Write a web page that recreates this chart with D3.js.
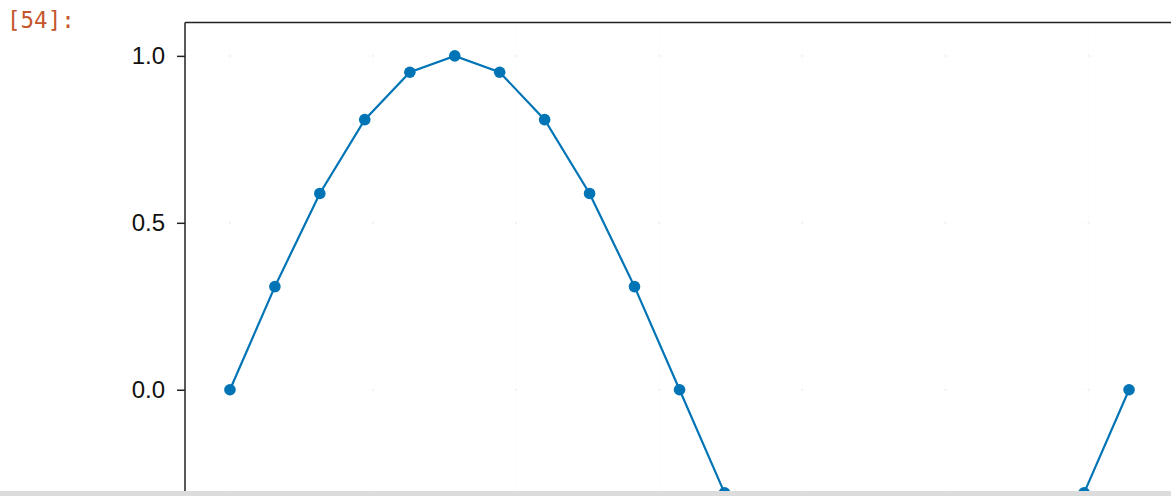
<!DOCTYPE html>
<html>
<head>
<meta charset="utf-8">
<script src="https://cdn.jsdelivr.net/npm/d3@7"></script>
<style>
  html, body { margin: 0; padding: 0; background: #fff; overflow: hidden; }
  svg { display: block; }
</style>
</head>
<body>
<svg id="chart" width="1171" height="496"></svg>
<script>
// Sampled sine wave: one full period, 21 points
const xs = [0, 0.314, 0.628, 0.942, 1.257, 1.571, 1.885, 2.199, 2.513, 2.827,
            3.142, 3.456, 3.770, 4.084, 4.398, 4.712, 5.027, 5.341, 5.655, 5.969, 6.283];
const ys = [0, 0.309, 0.588, 0.809, 0.951, 1.0, 0.951, 0.809, 0.588, 0.309,
            0, -0.309, -0.588, -0.809, -0.951, -1.0, -0.951, -0.809, -0.588, -0.309, 0];
const xTicks = [0, 1, 2, 3, 4, 5, 6];
const yTicks = [0.0, 0.5, 1.0];
const promptLabel = "[54]:";

const W = 1171, H = 496;
const svg = d3.select("#chart");

// Axis limits with a 5% margin around the data
const xPad = (d3.max(xs) - d3.min(xs)) * 0.05;
const yPad = (d3.max(ys) - d3.min(ys)) * 0.05;
const x = d3.scaleLinear()
  .domain([d3.min(xs) - xPad, d3.max(xs) + xPad])
  .range([185, 1174]);
const y = d3.scaleLinear()
  .domain([d3.min(ys) - yPad, d3.max(ys) + yPad])
  .range([757, 22.5]);

// Cell prompt
svg.append("text")
  .attr("x", 7).attr("y", 28)
  .attr("font-family", "'DejaVu Sans Mono', monospace")
  .attr("font-size", 22.5)
  .attr("fill", "#c4562c")
  .text(promptLabel);

const plot = svg.append("g");

// Very faint grid
const grid = plot.append("g").attr("stroke", "#000").attr("stroke-opacity", 0.012).attr("stroke-width", 1);
grid.selectAll("line.gx").data(xTicks).join("line")
  .attr("x1", d => x(d)).attr("x2", d => x(d))
  .attr("y1", y.range()[1]).attr("y2", y.range()[0]);
grid.selectAll("line.gy").data(yTicks).join("line")
  .attr("y1", d => y(d)).attr("y2", d => y(d))
  .attr("x1", x.range()[0]).attr("x2", x.range()[1]);
// Grid crossings show up slightly darker
const crossings = yTicks.flatMap(v => xTicks.map(u => [u, v]));
grid.selectAll("rect.gc").data(crossings).join("rect")
  .attr("x", d => x(d[0]) - 1).attr("y", d => y(d[1]) - 1)
  .attr("width", 2).attr("height", 2)
  .attr("stroke", "none").attr("fill", "#000").attr("fill-opacity", 0.05);

// Sine line and markers
const color = "#0074b5";
const pts = xs.map((v, i) => [v, ys[i]]);
plot.append("path")
  .datum(pts)
  .attr("fill", "none")
  .attr("stroke", color)
  .attr("stroke-width", 2.2)
  .attr("d", d3.line().x(d => x(d[0])).y(d => y(d[1])));
plot.selectAll("circle").data(pts).join("circle")
  .attr("cx", d => x(d[0])).attr("cy", d => y(d[1]))
  .attr("r", 5.8)
  .attr("fill", color);

// Left axis
const yAxis = d3.axisLeft(y)
  .tickValues(yTicks)
  .tickFormat(d3.format(".1f"))
  .tickSize(8)
  .tickPadding(12);
const ya = plot.append("g")
  .attr("transform", `translate(${x.range()[0]},0)`)
  .call(yAxis);
ya.select(".domain").remove();
ya.selectAll(".tick line").attr("stroke", "#222").attr("stroke-width", 1.5);
ya.selectAll(".tick text")
  .attr("font-family", "'Liberation Sans', Arial, sans-serif")
  .attr("font-size", 24)
  .attr("fill", "#111");

// Frame spines (left and top)
plot.append("line")
  .attr("x1", x.range()[0]).attr("x2", x.range()[0])
  .attr("y1", y.range()[1]).attr("y2", y.range()[0])
  .attr("stroke", "#222").attr("stroke-width", 1.5);
plot.append("line")
  .attr("x1", x.range()[0]).attr("x2", x.range()[1])
  .attr("y1", y.range()[1]).attr("y2", y.range()[1])
  .attr("stroke", "#222").attr("stroke-width", 1.5);

// Bottom scrollbar strip
svg.append("rect")
  .attr("x", 0).attr("y", 491).attr("width", W).attr("height", H - 491)
  .attr("fill", "#dcdcdc");
</script>
</body>
</html>
